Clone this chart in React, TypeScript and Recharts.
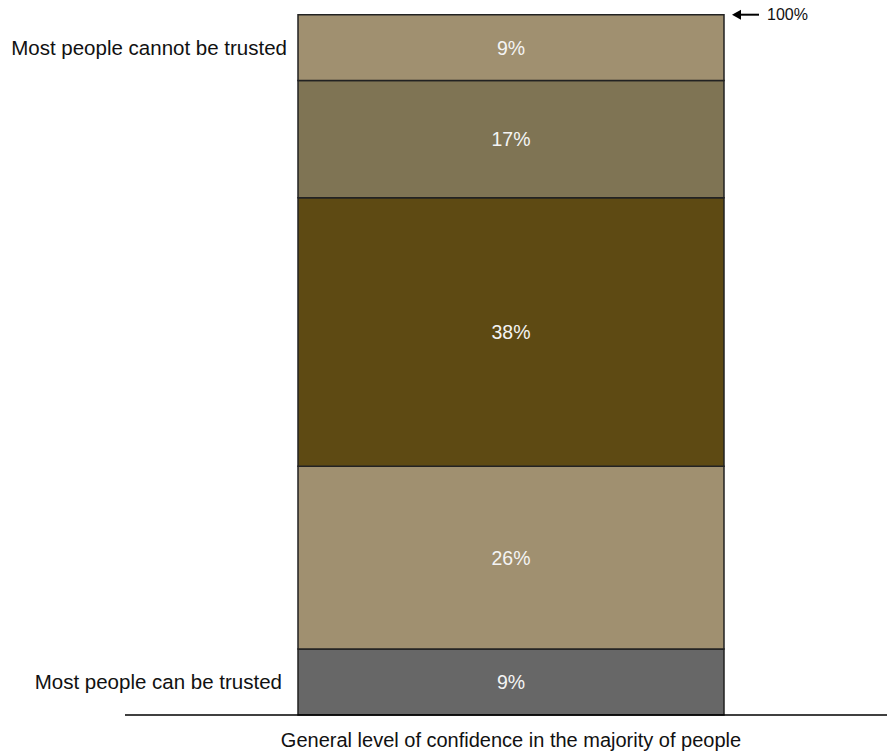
import React from "react";
import { BarChart, Bar, XAxis, YAxis, LabelList } from "recharts";

// bottom to top
const seriesKeys = ["s1", "s2", "s3", "s4", "s5"];
const seriesValues = [9.4, 26.1, 38.3, 16.7, 9.4];
const seriesColors = ["#676767", "#a09070", "#5e4a13", "#7f7454", "#a09070"];
const category = "General level of confidence in the majority of people";
const lowLabel = "Most people can be trusted";
const highLabel = "Most people cannot be trusted";

const row: Record<string, string | number> = { name: category, lowLabel, highLabel };
seriesKeys.forEach((k, i) => {
  row[k] = seriesValues[i];
});
const data = [row];

const pct = (v: any) => `${Math.round(Number(v))}%`;

const TopMarker = (props: any) => {
  const { x, y, width } = props;
  const x0 = x + width + 8;
  return (
    <g>
      <line x1={x0 + 6} y1={y} x2={x0 + 27} y2={y} stroke="#000" strokeWidth={2} />
      <polygon points={`${x0},${y} ${x0 + 9},${y - 5} ${x0 + 9},${y + 5}`} fill="#000" />
      <text x={x0 + 35} y={y} dy="0.35em" fontSize={16} fill="#111" fontFamily="Liberation Sans, Arial, sans-serif">
        100%
      </text>
    </g>
  );
};

export default function App() {
  return (
    <div style={{ position: "absolute", left: 0, top: 0 }}>
      <BarChart
        width={887}
        height={753}
        data={data}
        margin={{ top: 14, right: 0, bottom: 0, left: 125 }}
        style={{ fontFamily: "Liberation Sans, Arial, sans-serif" }}
      >
        <YAxis hide domain={[0, 100]} />
        <XAxis
          dataKey="name"
          height={38}
          padding={{ left: 10, right: 0 }}
          tickLine={false}
          axisLine={{ stroke: "#000", strokeWidth: 1.5 }}
          tick={{ fontSize: 20, fill: "#111" }}
          tickMargin={12}
        />
        {seriesKeys.map((k, i) => (
          <Bar
            key={k}
            dataKey={k}
            stackId="a"
            fill={seriesColors[i]}
            stroke="#222"
            strokeWidth={1.5}
            barSize={426}
            isAnimationActive={false}
          >
            <LabelList dataKey={k} position="center" formatter={pct} fill="#f4f4f4" fontSize={19.5} />
            {i === 0 && (
              <LabelList dataKey="lowLabel" position="left" offset={16} fill="#111" fontSize={20.5} />
            )}
            {i === seriesKeys.length - 1 && (
              <LabelList dataKey="highLabel" position="left" offset={11} fill="#111" fontSize={20.5} />
            )}
            {i === seriesKeys.length - 1 && <LabelList dataKey={k} content={<TopMarker />} />}
          </Bar>
        ))}
      </BarChart>
    </div>
  );
}
